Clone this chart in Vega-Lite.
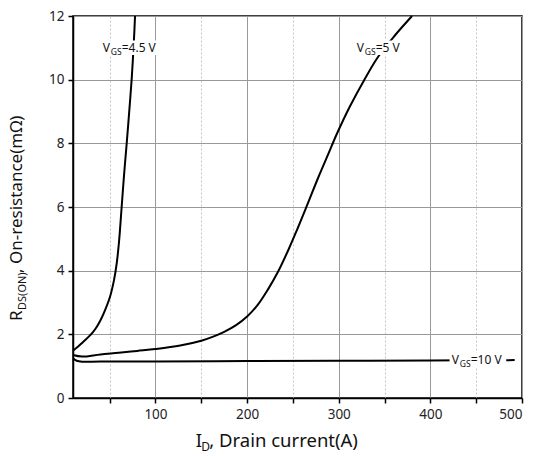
{
  "$schema": "https://vega.github.io/schema/vega-lite/v6.json",
  "width": 449,
  "height": 382,
  "autosize": {"type": "none"},
  "padding": {"left": 73, "top": 16, "right": 13, "bottom": 58},
  "config": {
    "view": {"stroke": "black", "strokeWidth": 1.5},
    "font": "Noto Sans",
    "axis": {"labelFont": "Noto Sans", "titleFont": "Noto Sans"}
  },
  "datasets": {
    "curves": [
      {"series": "4.5 V", "id": 10, "y": 1.49},
      {"series": "4.5 V", "id": 15, "y": 1.6},
      {"series": "4.5 V", "id": 21, "y": 1.76},
      {"series": "4.5 V", "id": 28, "y": 1.95},
      {"series": "4.5 V", "id": 32, "y": 2.08},
      {"series": "4.5 V", "id": 36, "y": 2.24},
      {"series": "4.5 V", "id": 40, "y": 2.44},
      {"series": "4.5 V", "id": 45, "y": 2.76},
      {"series": "4.5 V", "id": 50.4, "y": 3.18},
      {"series": "4.5 V", "id": 54.8, "y": 3.71},
      {"series": "4.5 V", "id": 57.7, "y": 4.23},
      {"series": "4.5 V", "id": 60.2, "y": 4.9},
      {"series": "4.5 V", "id": 63.1, "y": 6.0},
      {"series": "4.5 V", "id": 65.7, "y": 7.0},
      {"series": "4.5 V", "id": 68.6, "y": 8.0},
      {"series": "4.5 V", "id": 71.5, "y": 9.05},
      {"series": "4.5 V", "id": 74.1, "y": 10.05},
      {"series": "4.5 V", "id": 76.6, "y": 11.3},
      {"series": "4.5 V", "id": 77.7, "y": 12.0},
      {"series": "5 V", "id": 10, "y": 1.35},
      {"series": "5 V", "id": 20, "y": 1.3},
      {"series": "5 V", "id": 40, "y": 1.37},
      {"series": "5 V", "id": 60, "y": 1.42},
      {"series": "5 V", "id": 80, "y": 1.48},
      {"series": "5 V", "id": 100, "y": 1.54},
      {"series": "5 V", "id": 127, "y": 1.65},
      {"series": "5 V", "id": 150, "y": 1.8},
      {"series": "5 V", "id": 163, "y": 1.93},
      {"series": "5 V", "id": 175, "y": 2.08},
      {"series": "5 V", "id": 188, "y": 2.29},
      {"series": "5 V", "id": 200, "y": 2.56},
      {"series": "5 V", "id": 212, "y": 2.94},
      {"series": "5 V", "id": 223, "y": 3.42},
      {"series": "5 V", "id": 234, "y": 3.98},
      {"series": "5 V", "id": 245, "y": 4.65},
      {"series": "5 V", "id": 254, "y": 5.25},
      {"series": "5 V", "id": 264, "y": 5.95},
      {"series": "5 V", "id": 278, "y": 6.95},
      {"series": "5 V", "id": 289, "y": 7.69},
      {"series": "5 V", "id": 298, "y": 8.3},
      {"series": "5 V", "id": 312, "y": 9.15},
      {"series": "5 V", "id": 328, "y": 10.0},
      {"series": "5 V", "id": 343, "y": 10.72},
      {"series": "5 V", "id": 361, "y": 11.38},
      {"series": "5 V", "id": 380, "y": 12.0},
      {"series": "10 V", "id": 10, "y": 1.25},
      {"series": "10 V", "id": 14, "y": 1.17},
      {"series": "10 V", "id": 20, "y": 1.14},
      {"series": "10 V", "id": 40, "y": 1.15},
      {"series": "10 V", "id": 100, "y": 1.15},
      {"series": "10 V", "id": 200, "y": 1.16},
      {"series": "10 V", "id": 300, "y": 1.17},
      {"series": "10 V", "id": 400, "y": 1.18},
      {"series": "10 V", "id": 492, "y": 1.19}
    ],
    "labels": [
      {"series": "4.5 V", "id": 42.4, "y": 11, "v": "V", "sub": "GS", "rest": "=4.5 V"},
      {"series": "5 V", "id": 319.6, "y": 11, "v": "V", "sub": "GS", "rest": "=5 V"},
      {"series": "10 V", "id": 423.3, "y": 1.19, "v": "V", "sub": "GS", "rest": "=10 V"}
    ]
  },
  "layer": [
    {
      "data": {"name": "curves"},
      "mark": {"type": "line", "color": "black", "strokeWidth": 2, "interpolate": "catmull-rom"},
      "encoding": {
        "x": {
          "field": "id", "type": "quantitative",
          "scale": {"domain": [10, 500], "nice": false, "zero": false},
          "axis": {
            "title": null,
            "values": [50, 100, 150, 200, 250, 300, 350, 400, 450, 500],
            "labelExpr": "datum.value % 100 === 0 ? datum.label : ''",
            "grid": true,
            "gridColor": {"condition": {"test": "datum.value % 100 === 0", "value": "#999999"}, "value": "#c4c4c4"},
            "gridDash": {"condition": {"test": "datum.value % 100 === 0", "value": []}, "value": [2, 2]},
            "gridWidth": 1,
            "domainColor": "black", "domainWidth": 1.5,
            "tickColor": "black", "tickWidth": 1.5, "tickSize": 5,
            "labelFontSize": 13.5, "labelColor": "#222", "labelPadding": 4
          }
        },
        "y": {
          "field": "y", "type": "quantitative",
          "scale": {"domain": [0, 12], "nice": false},
          "axis": {
            "title": null,
            "values": [0, 1, 2, 3, 4, 5, 6, 7, 8, 9, 10, 11, 12],
            "labelExpr": "datum.value % 2 === 0 ? datum.label : ''",
            "grid": true,
            "gridColor": {"condition": {"test": "datum.value % 2 === 0", "value": "#999999"}, "value": "#c4c4c4"},
            "gridDash": {"condition": {"test": "datum.value % 2 === 0", "value": []}, "value": [2, 2]},
            "gridWidth": 1,
            "domainColor": "black", "domainWidth": 1.5,
            "tickColor": "black", "tickWidth": 1.5, "tickSize": 5,
            "labelFontSize": 13.5, "labelColor": "#222", "labelPadding": 4
          }
        },
        "detail": {"field": "series"}
      }
    },
    {
      "data": {"name": "labels"},
      "mark": {"type": "point", "shape": "M-0.08,-0.27H2.02V0.27H-0.08Z", "size": 2916, "filled": true, "fill": "white", "opacity": 1, "strokeWidth": 0},
      "encoding": {
        "x": {"field": "id", "type": "quantitative"},
        "y": {"field": "y", "type": "quantitative"}
      }
    },
    {
      "data": {"name": "labels"},
      "mark": {"type": "text", "align": "left", "baseline": "middle", "fontSize": 12, "color": "#111"},
      "encoding": {
        "x": {"field": "id", "type": "quantitative"},
        "y": {"field": "y", "type": "quantitative"},
        "text": {"field": "v"}
      }
    },
    {
      "data": {"name": "labels"},
      "mark": {"type": "text", "align": "left", "baseline": "middle", "fontSize": 8.5, "color": "#111", "dx": 8, "dy": 4},
      "encoding": {
        "x": {"field": "id", "type": "quantitative"},
        "y": {"field": "y", "type": "quantitative"},
        "text": {"field": "sub"}
      }
    },
    {
      "data": {"name": "labels"},
      "mark": {"type": "text", "align": "left", "baseline": "middle", "fontSize": 12, "color": "#111", "dx": 19},
      "encoding": {
        "x": {"field": "id", "type": "quantitative"},
        "y": {"field": "y", "type": "quantitative"},
        "text": {"field": "rest"}
      }
    },
    {
      "data": {"values": [{"t": "I"}]},
      "mark": {"type": "text", "align": "left", "baseline": "alphabetic", "fontSize": 18.5, "color": "#111", "dy": 49},
      "encoding": {"x": {"datum": 144}, "y": {"datum": 0}, "text": {"field": "t"}}
    },
    {
      "data": {"values": [{"t": "D"}]},
      "mark": {"type": "text", "align": "left", "baseline": "alphabetic", "fontSize": 12, "color": "#111", "dx": 5.5, "dy": 53},
      "encoding": {"x": {"datum": 144}, "y": {"datum": 0}, "text": {"field": "t"}}
    },
    {
      "data": {"values": [{"t": ", Drain current(A)"}]},
      "mark": {"type": "text", "align": "left", "baseline": "alphabetic", "fontSize": 18.5, "color": "#111", "dx": 13.5, "dy": 49},
      "encoding": {"x": {"datum": 144}, "y": {"datum": 0}, "text": {"field": "t"}}
    },
    {
      "data": {"values": [{"t": "R"}]},
      "mark": {"type": "text", "align": "left", "baseline": "alphabetic", "fontSize": 17, "color": "#111", "angle": 270, "dy": -51},
      "encoding": {"x": {"datum": 10}, "y": {"datum": 2.42}, "text": {"field": "t"}}
    },
    {
      "data": {"values": [{"t": "DS(ON)"}]},
      "mark": {"type": "text", "align": "left", "baseline": "alphabetic", "fontSize": 11, "color": "#111", "angle": 270, "dx": 11, "dy": -47},
      "encoding": {"x": {"datum": 10}, "y": {"datum": 2.42}, "text": {"field": "t"}}
    },
    {
      "data": {"values": [{"t": ", On-resistance(mΩ)"}]},
      "mark": {"type": "text", "align": "left", "baseline": "alphabetic", "fontSize": 17, "color": "#111", "angle": 270, "dx": 48, "dy": -51},
      "encoding": {"x": {"datum": 10}, "y": {"datum": 2.42}, "text": {"field": "t"}}
    }
  ]
}
